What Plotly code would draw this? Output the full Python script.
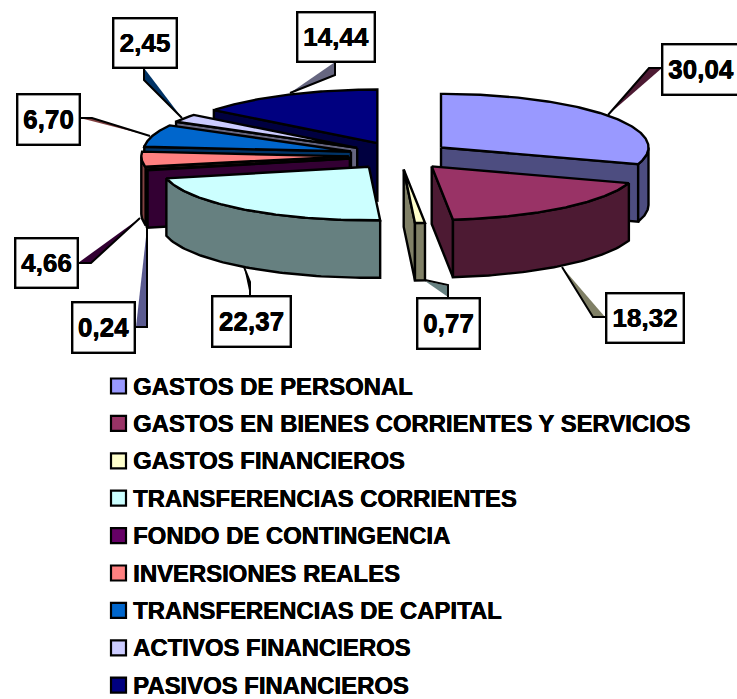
import numpy as np
import plotly.graph_objects as go

# ---- data ----
categories = ["GASTOS DE PERSONAL", "GASTOS EN BIENES CORRIENTES Y SERVICIOS",
              "GASTOS FINANCIEROS", "TRANSFERENCIAS CORRIENTES", "FONDO DE CONTINGENCIA",
              "INVERSIONES REALES", "TRANSFERENCIAS DE CAPITAL", "ACTIVOS FINANCIEROS",
              "PASIVOS FINANCIEROS"]
values = [30.04, 18.32, 0.77, 22.37, 0.24, 4.66, 6.70, 2.45, 14.44]
value_labels = ["30,04", "18,32", "0,77", "22,37", "0,24", "4,66", "6,70", "2,45", "14,44"]

# ---- styles ----
top_colors = ["#9999FF", "#993366", "#FFFFCC", "#CCFFFF", "#660066", "#FF8080", "#0066CC", "#CCCCFF", "#000080"]
side_colors = ["#4D4D80", "#4D1A33", "#808066", "#668080", "#330033", "#804040", "#003366", "#666680", "#000040"]
leader_colors = ["#4D1A33", "#808066", "#668080", "#000000", "#5A5A90", "#330033", "#804040", "#003366", "#666680"]
FONT = "Liberation Sans, Arial, sans-serif"
LABEL_SIZE = 26
LEGEND_SIZE = 23.9
HEAVY = "0.5px 0 0 black, 0 0.3px 0 black"

# ---- projection of the exploded 3-D pie (page pixels) ----
CX, CY = 399.7, 155.6
RX, RY = 207.5, 53.6
EX, EY = 51.0, 13.9
DEPTH = 57.5
DRAW_ORDER = [8, 7, 6, 5, 4, 0, 3, 2, 1]

# ---- layout of label boxes: centre x, centre y, width, height ----
LABEL_BOXES = [(700.5, 69, 79, 52), (644.5, 317.5, 79, 51), (448, 323, 64, 52), (251, 321, 80, 52),
               (103, 327, 64, 52), (46, 262.5, 64, 51), (48, 119, 64, 52), (144.5, 42.5, 65, 51), (335.5, 36.5, 79, 51)]
LEADERS = [
    ([(608, 115), (649, 68), (662, 68), (608, 115)], [(608, 115), (649, 68), (662, 68)]),
    ([(562, 267), (593, 317), (605, 317), (562, 267)], [(562, 267), (593, 317), (605, 317)]),
    ([(425, 281), (448, 286), (448, 297), (425, 281)], [(425, 280), (448, 285), (448, 297)]),
    ([(244, 267), (250, 282), (250, 295)], [(244, 267), (250, 282), (250, 295)]),
    ([(147, 228), (147, 327), (136, 327), (147, 228)], [(147, 228), (147, 327), (136, 327)]),
    ([(140, 218), (91, 263), (78, 263), (140, 218)], [(140, 218), (91, 263), (78, 263)]),
    ([(150, 136), (92, 118), (80, 118), (150, 136)], [(150, 136), (92, 118), (80, 118)]),
    ([(182, 118), (144, 80), (144, 68), (182, 118)], [(182, 118), (144, 80), (144, 68)]),
    ([(290, 93), (335, 75), (335, 62), (290, 93)], [(290, 93), (335, 75), (335, 62)]),
]
LEGEND_X, LEGEND_TEXT_X = 118.5, 131
LEGEND_Y0, LEGEND_STEP = 386, 37.4

total = sum(values)
cum = np.cumsum([0] + values) / total * 360.0

fig = go.Figure()


def poly(points, fill, name, width=2.4, line="black"):
    xs, ys = zip(*points)
    fig.add_trace(go.Scatter(x=xs, y=ys, mode="lines", fill="toself", fillcolor=fill,
                             line=dict(color=line, width=width), hoverinfo="skip",
                             showlegend=False, name=name))


# leaders sit underneath the pie
for i, (fill_pts, line_pts) in enumerate(LEADERS):
    xs, ys = zip(*fill_pts)
    fig.add_trace(go.Scatter(x=xs, y=ys, mode="lines", fill="toself", fillcolor=leader_colors[i],
                             line=dict(width=0), hoverinfo="skip", showlegend=False))
    xs, ys = zip(*line_pts)
    fig.add_trace(go.Scatter(x=xs, y=ys, mode="lines", line=dict(color="black", width=2),
                             hoverinfo="skip", showlegend=False))

for i in DRAW_ORDER:
    t0, t1 = cum[i], cum[i + 1]
    mid = np.radians((t0 + t1) / 2)
    ax = CX + EX * np.sin(mid)
    ay = CY - EY * np.cos(mid)

    def rim(t):
        r = np.radians(t)
        return ax + RX * np.sin(r), ay - RY * np.cos(r)

    name = categories[i]
    # radial faces turned towards the viewer
    if np.sin(np.radians(t0)) < -1e-9:
        x, y = rim(t0)
        poly([(ax, ay), (x, y), (x, y + DEPTH), (ax, ay + DEPTH), (ax, ay)], side_colors[i], name)
    if np.sin(np.radians(t1)) > 1e-9:
        x, y = rim(t1)
        poly([(ax, ay), (x, y), (x, y + DEPTH), (ax, ay + DEPTH), (ax, ay)], side_colors[i], name)
    # outer wall, front half only
    w0, w1 = max(t0, 90.0), min(t1, 270.0)
    if w1 > w0:
        ts = np.linspace(w0, w1, 60)
        upper = [rim(t) for t in ts]
        lower = [(x, y + DEPTH) for x, y in reversed(upper)]
        poly(upper + lower + [upper[0]], side_colors[i], name)
    # top face
    ts = np.linspace(t0, t1, 120)
    poly([(ax, ay)] + [rim(t) for t in ts] + [(ax, ay)], top_colors[i], name)

# legend (squares + text)
for i, cat in enumerate(categories):
    y = LEGEND_Y0 + i * LEGEND_STEP
    fig.add_trace(go.Scatter(x=[LEGEND_X], y=[y], mode="markers", name=cat, showlegend=False,
                             marker=dict(symbol="square", size=15, color=top_colors[i],
                                         line=dict(color="black", width=2.2)), hoverinfo="name"))
    fig.add_annotation(x=LEGEND_TEXT_X, y=y, text=f"<b>{cat}</b>", showarrow=False, xanchor="left",
                       yanchor="middle", xref="x", yref="y",
                       font=dict(family=FONT, size=LEGEND_SIZE, color="black", shadow=HEAVY))

# value labels
for lab, (cx, cy, w, h) in zip(value_labels, LABEL_BOXES):
    fig.add_annotation(x=cx, y=cy, text=f"<b>{lab}</b>", showarrow=False, xref="x", yref="y",
                       xanchor="center", yanchor="middle", width=w - 4, height=h - 4, borderpad=0,
                       bgcolor="white", bordercolor="black", borderwidth=2.4,
                       font=dict(family=FONT, size=LABEL_SIZE, color="black", shadow=HEAVY))

fig.update_layout(width=737, height=699, margin=dict(l=0, r=0, t=0, b=0),
                  paper_bgcolor="white", plot_bgcolor="white", showlegend=False,
                  xaxis=dict(range=[0, 737], visible=False, fixedrange=True),
                  yaxis=dict(range=[699, 0], visible=False, fixedrange=True))
fig.write_html("out.html", config={"displayModeBar": False},
               post_script="document.body.style.margin='0';")
